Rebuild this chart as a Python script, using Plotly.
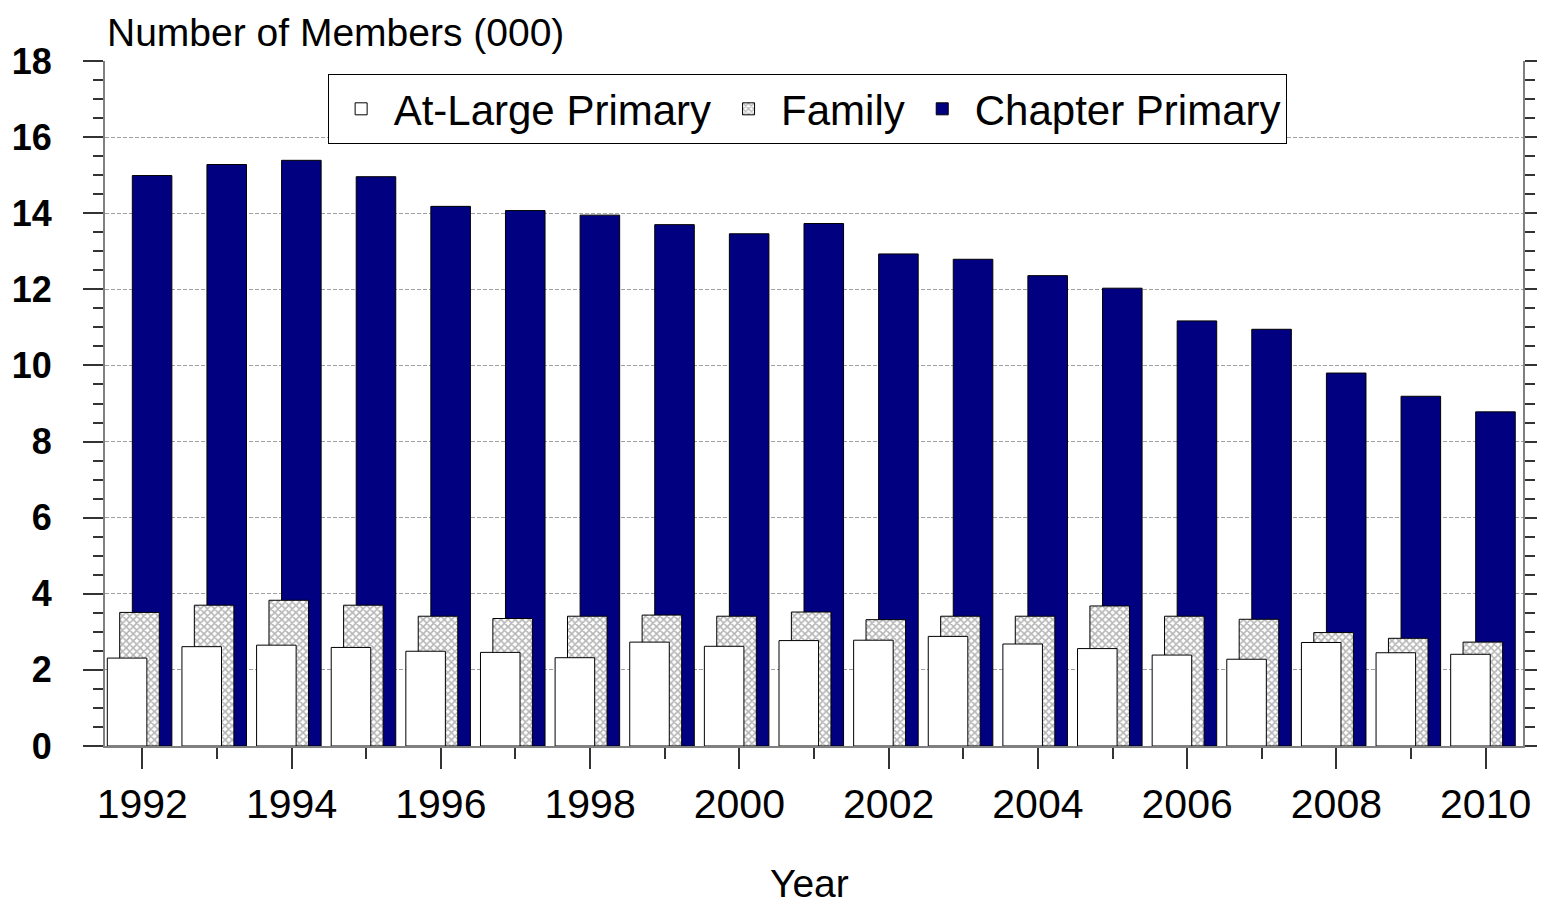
import plotly.graph_objects as go

years = [1992, 1993, 1994, 1995, 1996, 1997, 1998, 1999, 2000, 2001,
         2002, 2003, 2004, 2005, 2006, 2007, 2008, 2009, 2010]
chapter_primary = [14.99, 15.28, 15.39, 14.96, 14.18, 14.07, 13.95, 13.70, 13.46, 13.73,
                   12.93, 12.79, 12.36, 12.03, 11.17, 10.95, 9.80, 9.19, 8.78]
family = [3.51, 3.70, 3.83, 3.70, 3.41, 3.35, 3.41, 3.44, 3.41, 3.52,
          3.32, 3.41, 3.41, 3.68, 3.41, 3.33, 2.98, 2.83, 2.73]
at_large_primary = [2.31, 2.61, 2.65, 2.59, 2.49, 2.46, 2.32, 2.73, 2.62, 2.77,
                    2.78, 2.88, 2.68, 2.56, 2.39, 2.28, 2.72, 2.45, 2.41]
x_tick_labels = [str(y) for y in range(1992, 2011, 2)]
y_ticks = list(range(0, 19, 2))

FONT = "Liberation Sans, Arial, sans-serif"
BW = 0.53

fig = go.Figure()
fig.add_trace(go.Bar(
    x=years, y=chapter_primary, name="Chapter Primary", legendrank=3,
    width=BW, offset=-0.134,
    marker=dict(color="#000080", line=dict(color="#000000", width=1)),
))
fig.add_trace(go.Bar(
    x=years, y=family, name="Family", legendrank=2,
    width=BW, offset=-0.303,
    marker=dict(color="#ffffff", line=dict(color="#000000", width=1),
                pattern=dict(shape="x", fgcolor="#6e6e6e", bgcolor="#ffffff",
                             size=5, solidity=0.55)),
))
fig.add_trace(go.Bar(
    x=years, y=at_large_primary, name="At-Large Primary", legendrank=1,
    width=BW, offset=-0.469,
    marker=dict(color="#ffffff", line=dict(color="#000000", width=1)),
))

# page body has an 8px default margin; figure is sized to fill the 1545x904 window
fig.update_layout(
    width=1537, height=896,
    margin=dict(l=97, r=22, t=53, b=158),
    barmode="overlay",
    plot_bgcolor="#ffffff", paper_bgcolor="#ffffff",
    font=dict(family=FONT, color="#000000"),
    showlegend=True,
    legend=dict(
        orientation="h", x=0.157, y=0.981, xanchor="left", yanchor="top",
        font=dict(size=42, family=FONT, color="#000000"),
        bordercolor="#000000", borderwidth=1, bgcolor="#ffffff",
        itemwidth=55, tracegroupgap=0,
    ),
    xaxis=dict(
        range=[1991.5, 2010.5], automargin=False,
        tickmode="array", tickvals=[int(t) for t in x_tick_labels], ticktext=x_tick_labels,
        ticks="outside", ticklen=21, tickwidth=1.5, tickcolor="#333333",
        tickfont=dict(size=41, family=FONT, color="#000000"),
        ticklabelstandoff=0,
        showline=True, linecolor="#808080", linewidth=2,
        showgrid=False, zeroline=False,
        minor=dict(dtick=1, tick0=1991, ticks="outside", ticklen=11, tickwidth=1.5,
                   tickcolor="#333333", showgrid=False),
    ),
    yaxis=dict(
        range=[0, 18], automargin=False, tickmode="array", tickvals=y_ticks,
        ticks="outside", ticklen=20, tickwidth=1.5, tickcolor="#333333",
        tickfont=dict(size=36, family=FONT, color="#000000", weight="bold"),
        ticklabelstandoff=24,
        showline=True, linecolor="#808080", linewidth=2, mirror="ticks",
        showgrid=True, gridcolor="#a0a0a0", gridwidth=1.2, griddash="4px,2px",
        zeroline=False,
        minor=dict(dtick=0.5, ticks="outside", ticklen=10, tickwidth=1.5,
                   tickcolor="#333333", showgrid=False),
    ),
    annotations=[
        dict(text="Number of Members (000)", xref="paper", yref="paper",
             x=0, y=1.042, xanchor="left", yanchor="middle", showarrow=False,
             font=dict(size=39, family=FONT, color="#000000")),
        dict(text="Year", xref="paper", yref="paper",
             x=0.497, y=-0.2, xanchor="center", yanchor="middle", showarrow=False,
             font=dict(size=39, family=FONT, color="#000000")),
    ],
)

fig.write_html("out.html")
